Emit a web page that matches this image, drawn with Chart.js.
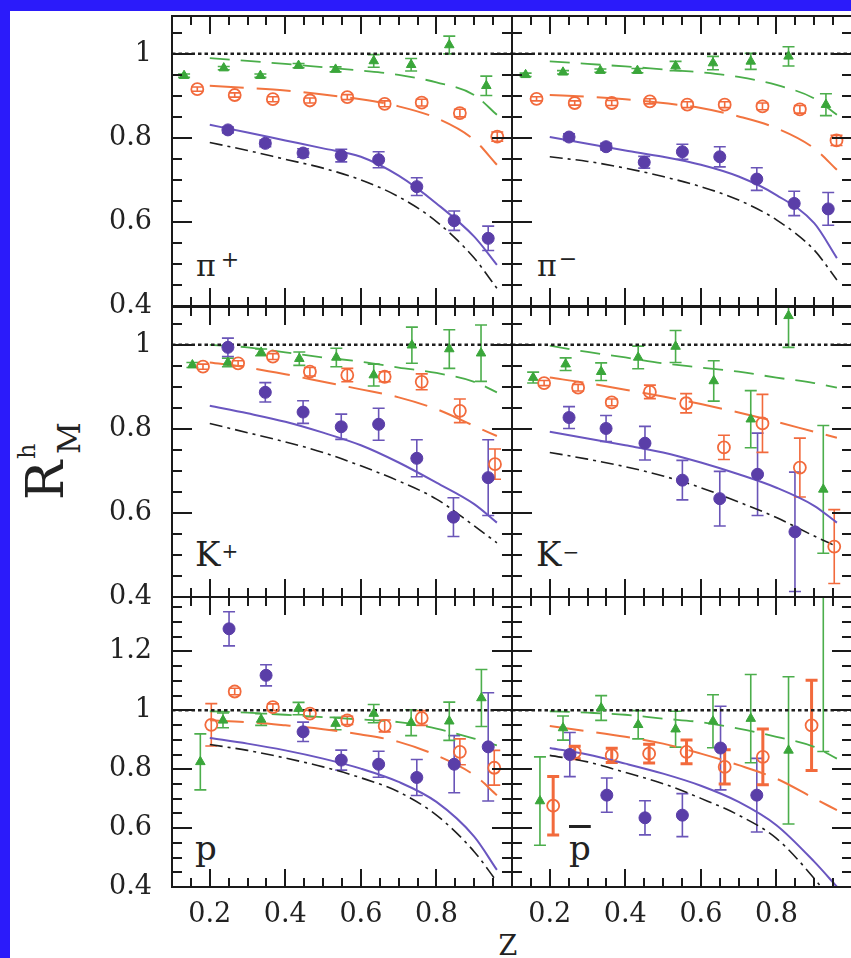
<!DOCTYPE html>
<html>
<head>
<meta charset="utf-8">
<script src="https://cdn.jsdelivr.net/npm/chart.js@4.4.1/dist/chart.umd.min.js"></script>
<style>
  html, body { margin: 0; padding: 0; overflow: hidden; }
  body { width: 851px; height: 958px; background: #2b1bfa; position: relative; font-family: "DejaVu Serif", serif; }
  #sheet { position: absolute; left: 10px; top: 11px; right: 0; bottom: 0; background: #fff; }
  canvas { position: absolute; }
  .lbl { position: absolute; color: #222; white-space: nowrap; line-height: 1; }
  .sup { position: relative; }
  #ytitle { position: absolute; left: 8px; top: 427px; width: 80px; height: 70px; transform: rotate(-90deg); color: #222; }
  #ytitle span { position: absolute; line-height: 1; white-space: nowrap; }
</style>
</head>
<body>
<div id="sheet"></div>

<div id="ytitle">
  <span style="left:2px; top:6px; font-size:52px;">R</span>
  <span style="left:43px; top:2px; font-size:24px;">h</span>
  <span style="left:48px; top:41px; font-size:31px;">M</span>
</div>
<div class="lbl" style="left:478px; top:932px; width:60px; text-align:center; font-size:27px;">Z</div>

<div class="lbl" style="left:196px; top:251px; font-size:30px;">π<span class="sup" style="font-size:22px; top:-9px; margin-left:5px;">+</span></div>
<div class="lbl" style="left:537px; top:251px; font-size:30px;">π<span class="sup" style="font-size:22px; top:-10px; margin-left:2px;">−</span></div>
<div class="lbl" style="left:195px; top:537px; font-size:34px;">K<span class="sup" style="font-size:20px; top:-8px; margin-left:1px;">+</span></div>
<div class="lbl" style="left:536px; top:537px; font-size:34px;">K<span class="sup" style="font-size:20px; top:-7px; margin-left:1px;">−</span></div>
<div class="lbl" style="left:195px; top:831px; font-size:34px;">p</div>
<div class="lbl" style="left:569px; top:831px; font-size:34px;"><span style="text-decoration:overline;">p</span></div>

<script>
// ---- shared axes ----
const zMin = 0.1, zMax = 1.0, rMin = 0.4;
const rMaxMeson = 1.09, rMaxBaryon = 1.385;
const zTheory = [0.2, 0.3, 0.4, 0.5, 0.6, 0.7, 0.8, 0.9, 0.96];
const zTicks = [0.2, 0.4, 0.6, 0.8];
const rTicksMeson = [0.4, 0.6, 0.8, 1];
const rTicksBaryon = [0.4, 0.6, 0.8, 1, 1.2];
const unityZ = [0.1, 1.0];
const unityR = [1, 1];

// ---- pi+ ----
const piPlusHeZ = [0.132, 0.237, 0.334, 0.435, 0.533, 0.634, 0.733, 0.834, 0.932];
const piPlusHeR = [0.948, 0.966, 0.948, 0.972, 0.963, 0.983, 0.974, 1.021, 0.924];
const piPlusHeErr = [0.004, 0.004, 0.004, 0.005, 0.006, 0.015, 0.015, 0.021, 0.023];
const piPlusNeZ = [0.167, 0.266, 0.367, 0.465, 0.564, 0.663, 0.761, 0.862, 0.961];
const piPlusNeR = [0.916, 0.902, 0.892, 0.889, 0.897, 0.881, 0.884, 0.859, 0.803];
const piPlusNeErr = [0.005, 0.005, 0.006, 0.006, 0.006, 0.007, 0.008, 0.009, 0.011];
const piPlusKrZ = [0.248, 0.347, 0.447, 0.548, 0.647, 0.748, 0.847, 0.937];
const piPlusKrR = [0.819, 0.787, 0.764, 0.758, 0.748, 0.684, 0.603, 0.561];
const piPlusKrErr = [0.007, 0.008, 0.010, 0.015, 0.019, 0.021, 0.023, 0.029];
const piPlusHeTh = [0.990, 0.983, 0.976, 0.968, 0.960, 0.950, 0.932, 0.902, 0.855];
const piPlusNeTh = [0.924, 0.919, 0.913, 0.903, 0.892, 0.875, 0.847, 0.795, 0.736];
const piPlusKrTh = [0.831, 0.813, 0.794, 0.775, 0.755, 0.710, 0.644, 0.565, 0.498];
const piPlusXeTh = [0.789, 0.770, 0.749, 0.728, 0.700, 0.660, 0.601, 0.514, 0.442];

// ---- pi- ----
const piMinusHeZ = [0.136, 0.235, 0.334, 0.432, 0.533, 0.632, 0.732, 0.832, 0.931];
const piMinusHeR = [0.950, 0.956, 0.960, 0.960, 0.971, 0.978, 0.982, 0.994, 0.879];
const piMinusHeErr = [0.004, 0.004, 0.004, 0.005, 0.011, 0.016, 0.019, 0.023, 0.026];
const piMinusNeZ = [0.165, 0.266, 0.364, 0.465, 0.564, 0.663, 0.763, 0.862, 0.959];
const piMinusNeR = [0.893, 0.883, 0.883, 0.887, 0.879, 0.879, 0.875, 0.868, 0.794];
const piMinusNeErr = [0.005, 0.005, 0.006, 0.006, 0.007, 0.007, 0.008, 0.009, 0.012];
const piMinusKrZ = [0.251, 0.349, 0.450, 0.551, 0.650, 0.748, 0.847, 0.937];
const piMinusKrR = [0.802, 0.779, 0.742, 0.767, 0.755, 0.702, 0.644, 0.631];
const piMinusKrErr = [0.008, 0.008, 0.014, 0.018, 0.024, 0.027, 0.029, 0.039];
const piMinusHeTh = [0.982, 0.976, 0.970, 0.963, 0.956, 0.945, 0.926, 0.894, 0.855];
const piMinusNeTh = [0.902, 0.898, 0.892, 0.883, 0.871, 0.851, 0.823, 0.775, 0.724];
const piMinusKrTh = [0.802, 0.786, 0.770, 0.755, 0.736, 0.708, 0.664, 0.597, 0.514];
const piMinusXeTh = [0.755, 0.744, 0.728, 0.708, 0.684, 0.652, 0.605, 0.533, 0.462];

// ---- K+ ----
const kPlusHeZ = [0.154, 0.248, 0.336, 0.437, 0.535, 0.634, 0.735, 0.834, 0.918];
const kPlusHeR = [0.952, 0.958, 0.982, 0.967, 0.970, 0.928, 0.999, 0.990, 0.980];
const kPlusHeErr = [0.006, 0.010, 0.008, 0.016, 0.022, 0.026, 0.043, 0.046, 0.067];
const kPlusNeZ = [0.182, 0.275, 0.367, 0.465, 0.564, 0.663, 0.761, 0.862, 0.955];
const kPlusNeR = [0.948, 0.956, 0.972, 0.936, 0.928, 0.924, 0.912, 0.843, 0.716];
const kPlusNeErr = [0.006, 0.006, 0.007, 0.010, 0.016, 0.012, 0.019, 0.028, 0.036];
const kPlusKrZ = [0.248, 0.347, 0.447, 0.548, 0.647, 0.748, 0.845, 0.937];
const kPlusKrR = [0.994, 0.887, 0.840, 0.805, 0.811, 0.730, 0.590, 0.684];
const kPlusKrErr = [0.022, 0.023, 0.027, 0.030, 0.038, 0.044, 0.046, 0.090];
const kPlusHeTh = [1.000, 0.994, 0.982, 0.970, 0.960, 0.946, 0.933, 0.912, 0.887];
const kPlusNeTh = [0.958, 0.946, 0.930, 0.912, 0.894, 0.875, 0.847, 0.807, 0.783];
const kPlusKrTh = [0.855, 0.837, 0.817, 0.791, 0.761, 0.720, 0.672, 0.621, 0.577];
const kPlusXeTh = [0.813, 0.791, 0.769, 0.744, 0.712, 0.676, 0.633, 0.569, 0.529];

// ---- K- ----
const kMinusHeZ = [0.156, 0.242, 0.336, 0.434, 0.533, 0.634, 0.732, 0.832, 0.924];
const kMinusHeR = [0.922, 0.954, 0.936, 0.970, 0.996, 0.914, 0.823, 1.069, 0.656];
const kMinusHeErr = [0.013, 0.015, 0.021, 0.027, 0.038, 0.048, 0.068, 0.075, 0.152];
const kMinusNeZ = [0.185, 0.275, 0.364, 0.465, 0.561, 0.661, 0.763, 0.862, 0.953];
const kMinusNeR = [0.909, 0.898, 0.863, 0.888, 0.861, 0.756, 0.813, 0.708, 0.520];
const kMinusNeErr = [0.006, 0.008, 0.008, 0.016, 0.023, 0.029, 0.069, 0.070, 0.088];
const kMinusKrZ = [0.251, 0.349, 0.452, 0.551, 0.650, 0.750, 0.849];
const kMinusKrR = [0.827, 0.801, 0.766, 0.678, 0.634, 0.692, 0.555];
const kMinusKrErr = [0.026, 0.031, 0.040, 0.047, 0.065, 0.098, 0.142];
const kMinusHeTh = [0.998, 0.983, 0.970, 0.956, 0.946, 0.936, 0.922, 0.909, 0.898];
const kMinusNeTh = [0.922, 0.909, 0.893, 0.877, 0.859, 0.839, 0.817, 0.793, 0.779];
const kMinusKrTh = [0.793, 0.777, 0.761, 0.744, 0.720, 0.692, 0.660, 0.617, 0.577];
const kMinusXeTh = [0.744, 0.728, 0.710, 0.688, 0.660, 0.626, 0.589, 0.545, 0.520];

// ---- p ----
const pHeZ = [0.175, 0.235, 0.336, 0.435, 0.533, 0.634, 0.733, 0.834, 0.919];
const pHeR = [0.825, 0.966, 0.969, 1.006, 0.955, 0.989, 0.958, 0.963, 1.042];
const pHeErr = [0.095, 0.025, 0.020, 0.021, 0.021, 0.031, 0.044, 0.065, 0.097];
const pNeZ = [0.204, 0.266, 0.367, 0.465, 0.564, 0.663, 0.761, 0.862, 0.953];
const pNeR = [0.951, 1.064, 1.011, 0.989, 0.966, 0.947, 0.974, 0.859, 0.805];
const pNeErr = [0.072, 0.011, 0.011, 0.011, 0.014, 0.020, 0.025, 0.044, 0.059];
const pKrZ = [0.251, 0.349, 0.447, 0.548, 0.647, 0.748, 0.847, 0.937];
const pKrR = [1.277, 1.119, 0.927, 0.831, 0.817, 0.772, 0.817, 0.876];
const pKrErr = [0.058, 0.036, 0.033, 0.034, 0.044, 0.061, 0.097, 0.184];
const pHeTh = [0.997, 0.992, 0.985, 0.977, 0.969, 0.960, 0.938, 0.904, 0.881];
const pNeTh = [0.966, 0.960, 0.949, 0.936, 0.918, 0.893, 0.847, 0.780, 0.712];
const pKrTh = [0.906, 0.887, 0.864, 0.836, 0.802, 0.757, 0.689, 0.571, 0.458];
const pXeTh = [0.884, 0.864, 0.838, 0.808, 0.771, 0.723, 0.644, 0.520, 0.418];

// ---- p-bar ----
const pbarHeZ = [0.174, 0.235, 0.336, 0.434, 0.533, 0.632, 0.732, 0.832, 0.924];
const pbarHeR = [0.692, 0.940, 1.008, 0.951, 0.936, 0.963, 0.972, 0.864, 1.50];
const pbarHeErr = [0.150, 0.041, 0.042, 0.048, 0.061, 0.090, 0.150, 0.250, 0.64];
const pbarNeZ = [0.209, 0.266, 0.364, 0.463, 0.562, 0.663, 0.764, 0.893];
const pbarNeR = [0.676, 0.857, 0.847, 0.853, 0.859, 0.808, 0.842, 0.949];
const pbarNeErr = [0.099, 0.021, 0.024, 0.032, 0.040, 0.058, 0.095, 0.153];
const pbarKrZ = [0.253, 0.351, 0.452, 0.551, 0.652, 0.748];
const pbarKrR = [0.850, 0.712, 0.635, 0.644, 0.872, 0.712];
const pbarKrErr = [0.075, 0.058, 0.058, 0.073, 0.142, 0.125];
const pbarHeTh = [0.997, 0.992, 0.985, 0.972, 0.960, 0.938, 0.910, 0.876, 0.836];
const pbarNeTh = [0.947, 0.929, 0.910, 0.887, 0.853, 0.814, 0.768, 0.701, 0.661];
const pbarKrTh = [0.872, 0.850, 0.819, 0.785, 0.744, 0.689, 0.610, 0.486, 0.401];
const pbarXeTh = [0.847, 0.825, 0.789, 0.751, 0.701, 0.644, 0.565, 0.429, 0.330];

// ---- look ----
const purple = "#5a3ea8", purpleBar = "#6a55b8";
const orange = "#f26a3c";
const green = "#3aa63a", greenBar = "#4cae4c";
const black = "#1e1e1e";
const tickFont = { family: "DejaVu Serif", size: 27 };

const plotLeft = [172, 512];
const plotTop = [16, 307, 597];
const plotW = 340, plotH = 290;
const yAxisW = 100, pad = 20, xAxisH = 45;
const minorStep = 0.05;

const fmt = v => String(Math.round(v * 10) / 10);
const pts = (zs, rs) => zs.map((z, i) => ({ x: z, y: rs[i] }));

// minor / major tick values between lo and hi, every minorStep (major every 4th)
function tickValues(lo, hi) {
    const out = [];
    const first = Math.ceil(lo / minorStep - 1e-6);
    const last = Math.floor(hi / minorStep + 1e-6);
    for (let k = first; k <= last; k++) out.push({ v: k * minorStep, major: k % 4 === 0 });
    return out;
}

// Error bars before the datasets, box after everything
const decor = {
    id: "decor",
    beforeDatasetsDraw(chart) {
        const { ctx, chartArea: a } = chart;
        const xs = chart.scales.x, ys = chart.scales.y;
        ctx.save();
        ctx.beginPath();
        ctx.rect(a.left, a.top, a.right - a.left, a.bottom - a.top);
        ctx.clip();
        chart.data.datasets.forEach(ds => {
            if (!ds.errors) return;
            ctx.strokeStyle = ds.errColor;
            ctx.lineWidth = ds.errWidth;
            ds.data.forEach((p, i) => {
                const px = xs.getPixelForValue(p.x);
                const lo = ys.getPixelForValue(p.y - ds.errors[i]);
                const hi = ys.getPixelForValue(p.y + ds.errors[i]);
                ctx.beginPath();
                ctx.moveTo(px, lo); ctx.lineTo(px, hi);
                ctx.moveTo(px - 6, lo); ctx.lineTo(px + 6, lo);
                ctx.moveTo(px - 6, hi); ctx.lineTo(px + 6, hi);
                ctx.stroke();
            });
        });
        ctx.restore();
    },
    afterDraw(chart) {
        const { ctx, chartArea: a } = chart;
        ctx.save();
        ctx.strokeStyle = "#1a1a1a";
        ctx.lineWidth = 2;
        ctx.strokeRect(a.left, a.top, a.right - a.left, a.bottom - a.top);
        ctx.restore();
    }
};

const panelCharts = [];

function makePanel(col, row, rMax, rTicks, he, ne, kr, th, neBarWidth) {
    const cv = document.createElement("canvas");
    const left = col === 0 ? plotLeft[0] - yAxisW : plotLeft[1] - pad;
    const top = plotTop[row] - pad;
    const w = (col === 0 ? yAxisW : pad) + plotW + pad;
    const h = pad + plotH + (row === 2 ? xAxisH : pad);
    cv.width = w; cv.height = h;
    cv.style.left = left + "px"; cv.style.top = top + "px";
    document.body.appendChild(cv);

    const showX = row === 2, showY = col === 0;

    const curve = (vals, color, dash, width) => ({
        data: pts(zTheory, vals), showLine: true, borderColor: color, borderWidth: width,
        borderDash: dash, pointRadius: 0, cubicInterpolationMode: "monotone", fill: false
    });

    const chart = new Chart(cv.getContext("2d"), {
        type: "scatter",
        data: {
            datasets: [
                { data: pts(kr[0], kr[1]), errors: kr[2], errColor: purpleBar, errWidth: 1.6,
                  pointStyle: "circle", pointRadius: 6, backgroundColor: purple, borderColor: purple, borderWidth: 1 },
                { data: pts(ne[0], ne[1]), errors: ne[2], errColor: orange, errWidth: neBarWidth,
                  pointStyle: "circle", pointRadius: 6, backgroundColor: "rgba(255,255,255,0)", borderColor: orange, borderWidth: 1.8 },
                { data: pts(he[0], he[1]), errors: he[2], errColor: greenBar, errWidth: 1.6,
                  pointStyle: "triangle", pointRadius: 5.5, backgroundColor: green, borderColor: green, borderWidth: 1 },
                { data: pts(unityZ, unityR), showLine: true, borderColor: black, borderWidth: 2.5,
                  borderDash: [3.5, 3], pointRadius: 0 },
                curve(th[0], "#4aae4a", [20, 11], 1.8),
                curve(th[1], "#f2743f", [34, 13], 2),
                curve(th[2], "#6a56c0", [], 2),
                curve(th[3], black, [13, 5, 3, 5], 1.6)
            ]
        },
        options: {
            responsive: false,
            animation: false,
            devicePixelRatio: 1,
            layout: { padding: { left: showY ? 0 : pad, right: pad, top: pad, bottom: showX ? 0 : pad } },
            plugins: { legend: { display: false }, tooltip: { enabled: false } },
            scales: {
                x: {
                    type: "linear", min: zMin, max: zMax,
                    display: showX,
                    afterBuildTicks: ax => { ax.ticks = zTicks.map(v => ({ value: v })); },
                    afterFit: ax => {
                        if (!showX) return;
                        ax.height = xAxisH; ax.paddingLeft = 0; ax.paddingRight = 0;
                    },
                    grid: { display: false, drawTicks: false },
                    border: { display: false },
                    ticks: { font: tickFont, color: "#222", padding: 12, maxRotation: 0, autoSkip: false, callback: v => fmt(v) }
                },
                y: {
                    type: "linear", min: rMin, max: rMax,
                    display: showY,
                    afterBuildTicks: ax => { ax.ticks = rTicks.map(v => ({ value: v })); },
                    afterFit: ax => {
                        if (!showY) return;
                        ax.width = yAxisW; ax.paddingTop = 0; ax.paddingBottom = 0;
                    },
                    grid: { display: false, drawTicks: false },
                    border: { display: false },
                    ticks: { font: tickFont, color: "#222", padding: 20, autoSkip: false, callback: v => fmt(v) }
                }
            }
        },
        plugins: [decor]
    });
    panelCharts.push({ chart, left, top, rMax });
}

// Inward ticks for every panel, on one overlay laid over the charts,
// placed with each chart's own chart area and scales
function drawTickOverlay() {
    const ov = document.createElement("canvas");
    ov.width = 851; ov.height = 958;
    ov.style.left = "0px"; ov.style.top = "0px";
    ov.style.pointerEvents = "none";
    ov.style.zIndex = "5";
    document.body.appendChild(ov);
    const c = ov.getContext("2d");
    c.fillStyle = "#1a1a1a";
    panelCharts.forEach(({ chart, left, top, rMax }) => {
        const a = chart.chartArea;
        const xs = chart.scales.x, ys = chart.scales.y;
        tickValues(zMin, zMax).forEach(t => {
            const px = left + Math.round(xs.getPixelForValue(t.v));
            const len = t.major ? 18 : 9;
            c.fillRect(px - 1, top + a.top, 2, len);
            c.fillRect(px - 1, top + a.bottom - len, 2, len);
        });
        tickValues(rMin, rMax).forEach(t => {
            const py = top + Math.round(ys.getPixelForValue(t.v));
            const len = t.major ? 20 : 10;
            c.fillRect(left + a.left, py - 1, len, 2);
            c.fillRect(left + a.right - len, py - 1, len, 2);
        });
    });
}

document.addEventListener("DOMContentLoaded", function() {
    makePanel(0, 0, rMaxMeson, rTicksMeson,
        [piPlusHeZ, piPlusHeR, piPlusHeErr], [piPlusNeZ, piPlusNeR, piPlusNeErr], [piPlusKrZ, piPlusKrR, piPlusKrErr],
        [piPlusHeTh, piPlusNeTh, piPlusKrTh, piPlusXeTh], 1.6);
    makePanel(1, 0, rMaxMeson, rTicksMeson,
        [piMinusHeZ, piMinusHeR, piMinusHeErr], [piMinusNeZ, piMinusNeR, piMinusNeErr], [piMinusKrZ, piMinusKrR, piMinusKrErr],
        [piMinusHeTh, piMinusNeTh, piMinusKrTh, piMinusXeTh], 1.6);
    makePanel(0, 1, rMaxMeson, rTicksMeson,
        [kPlusHeZ, kPlusHeR, kPlusHeErr], [kPlusNeZ, kPlusNeR, kPlusNeErr], [kPlusKrZ, kPlusKrR, kPlusKrErr],
        [kPlusHeTh, kPlusNeTh, kPlusKrTh, kPlusXeTh], 1.6);
    makePanel(1, 1, rMaxMeson, rTicksMeson,
        [kMinusHeZ, kMinusHeR, kMinusHeErr], [kMinusNeZ, kMinusNeR, kMinusNeErr], [kMinusKrZ, kMinusKrR, kMinusKrErr],
        [kMinusHeTh, kMinusNeTh, kMinusKrTh, kMinusXeTh], 1.6);
    makePanel(0, 2, rMaxBaryon, rTicksBaryon,
        [pHeZ, pHeR, pHeErr], [pNeZ, pNeR, pNeErr], [pKrZ, pKrR, pKrErr],
        [pHeTh, pNeTh, pKrTh, pXeTh], 1.6);
    makePanel(1, 2, rMaxBaryon, rTicksBaryon,
        [pbarHeZ, pbarHeR, pbarHeErr], [pbarNeZ, pbarNeR, pbarNeErr], [pbarKrZ, pbarKrR, pbarKrErr],
        [pbarHeTh, pbarNeTh, pbarKrTh, pbarXeTh], 3);
    drawTickOverlay();
});
</script>
</body>
</html>
